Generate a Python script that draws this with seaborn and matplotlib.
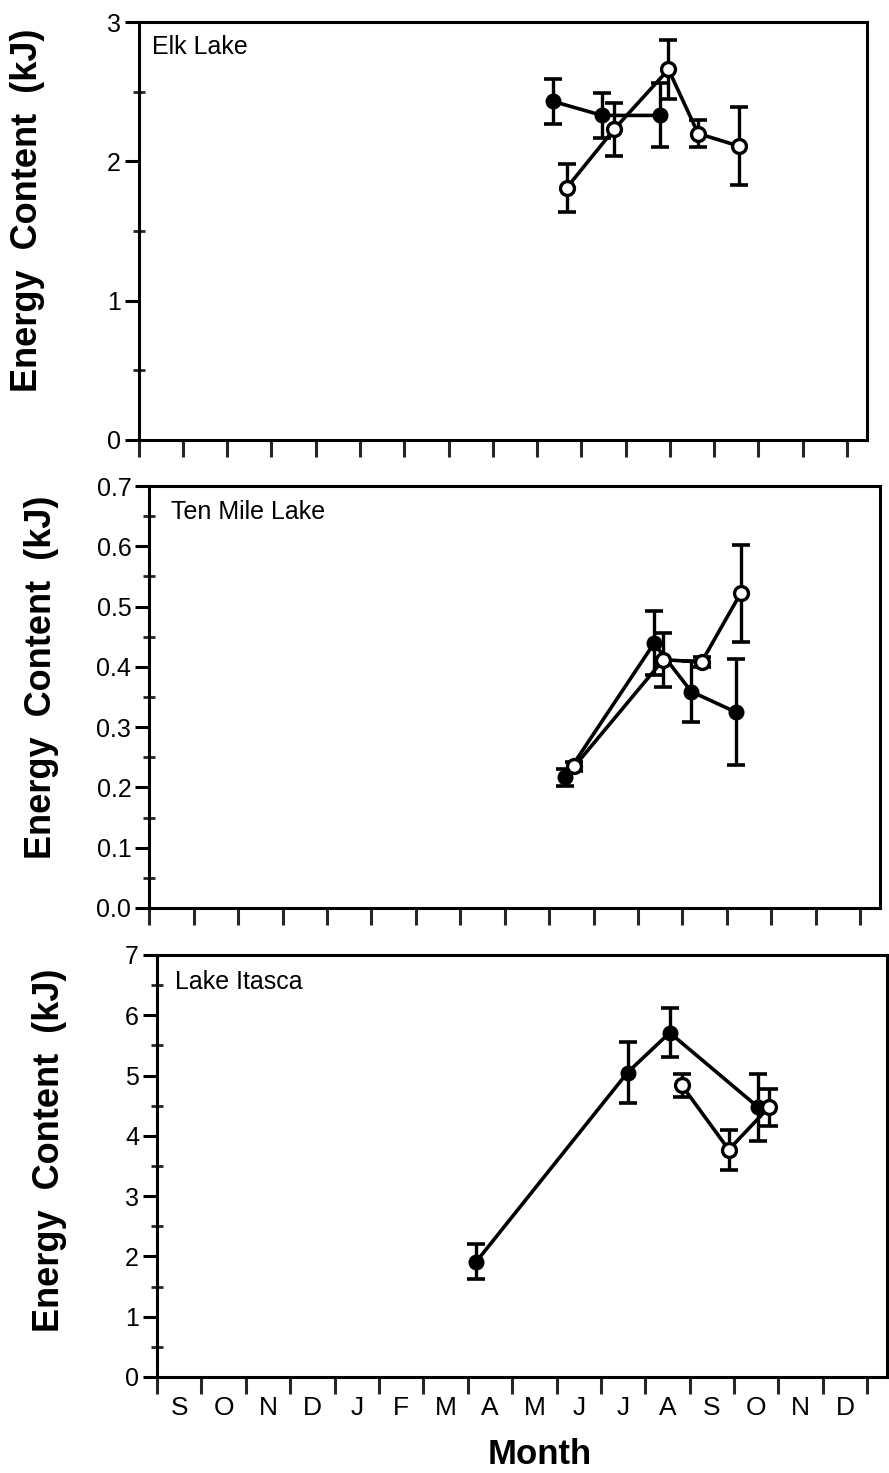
import numpy as np
import pandas as pd
import matplotlib
matplotlib.use("Agg")
import matplotlib.pyplot as plt
import seaborn as sns
from matplotlib.ticker import MultipleLocator, FixedLocator

# ---------------- data (x = months since 1 September) ----------------
month_labels = ["S", "O", "N", "D", "J", "F", "M", "A", "M", "J", "J", "A", "S", "O", "N", "D"]

elk_filled_x = [9.37, 10.47, 11.77]
elk_filled_y = [2.43, 2.33, 2.33]
elk_filled_err = [0.16, 0.16, 0.23]
elk_open_x = [9.67, 10.74, 11.97, 12.64, 13.56]
elk_open_y = [1.81, 2.23, 2.66, 2.20, 2.11]
elk_open_err = [0.17, 0.19, 0.21, 0.10, 0.28]

ten_filled_x = [9.35, 11.36, 12.20, 13.20]
ten_filled_y = [0.217, 0.439, 0.359, 0.325]
ten_filled_err = [0.014, 0.053, 0.050, 0.088]
ten_open_x = [9.57, 11.57, 12.43, 13.31]
ten_open_y = [0.235, 0.412, 0.408, 0.522]
ten_open_err = [0.008, 0.045, 0.008, 0.080]

ita_filled_x = [7.19, 10.60, 11.55, 13.55]
ita_filled_y = [1.91, 5.05, 5.71, 4.47]
ita_filled_err = [0.29, 0.50, 0.41, 0.55]
ita_open_x = [11.82, 12.88, 13.78]
ita_open_y = [4.84, 3.77, 4.47]
ita_open_err = [0.19, 0.33, 0.31]

panel_titles = ["Elk Lake", "Ten Mile Lake", "Lake Itasca"]
y_limits = [(0, 3), (0, 0.7), (0, 7)]
y_major = [1, 0.1, 1]
y_fmt = ["{:.0f}", "{:.1f}", "{:.0f}"]

panels = [
    (elk_filled_x, elk_filled_y, elk_filled_err, elk_open_x, elk_open_y, elk_open_err),
    (ten_filled_x, ten_filled_y, ten_filled_err, ten_open_x, ten_open_y, ten_open_err),
    (ita_filled_x, ita_filled_y, ita_filled_err, ita_open_x, ita_open_y, ita_open_err),
]

# ---------------- style ----------------
sns.set_theme(style="ticks")
plt.rcParams["font.family"] = ["Liberation Sans", "DejaVu Sans"]
plt.rcParams["axes.linewidth"] = 2.2

fig = plt.figure(figsize=(8.89, 14.73), dpi=100)
positions = [
    [0.156, 0.7013, 0.819, 0.2837],
    [0.168, 0.3836, 0.822, 0.2864],
    [0.1766, 0.0652, 0.8214, 0.2865],
]
title_pos = [(0.018, 0.968), (0.029, 0.966), (0.025, 0.964)]
ylabel_pos = [(0.031, 0.857), (0.047, 0.540), (0.056, 0.219)]

for i, (pos, data) in enumerate(zip(positions, panels)):
    ax = fig.add_axes(pos)
    fx, fy, fe, ox, oy, oe = data
    df_f = pd.DataFrame({"month": fx, "energy": fy})
    df_o = pd.DataFrame({"month": ox, "energy": oy})

    ax.errorbar(fx, fy, yerr=fe, fmt="none", ecolor="black", elinewidth=2.4,
                capsize=6.5, capthick=2.6, zorder=2)
    ax.errorbar(ox, oy, yerr=oe, fmt="none", ecolor="black", elinewidth=2.4,
                capsize=6.5, capthick=2.6, zorder=2)
    sns.lineplot(data=df_f, x="month", y="energy", ax=ax, color="black",
                 linewidth=2.6, marker="o", markersize=10,
                 markerfacecolor="black", markeredgecolor="black",
                 markeredgewidth=1.5, zorder=3, estimator=None, sort=False)
    sns.lineplot(data=df_o, x="month", y="energy", ax=ax, color="black",
                 linewidth=2.6, marker="o", markersize=10,
                 markerfacecolor="white", markeredgecolor="black",
                 markeredgewidth=2.4, zorder=4, estimator=None, sort=False)

    ax.set_xlim(0, 16.45)
    ax.set_ylim(*y_limits[i])
    ax.set_xlabel("")
    ax.set_ylabel("")

    # y ticks
    lo, hi = y_limits[i]
    step = y_major[i]
    majors = np.round(np.arange(lo, hi + step / 2, step), 3)
    ax.yaxis.set_major_locator(FixedLocator(majors))
    ax.yaxis.set_minor_locator(MultipleLocator(step / 2))
    ax.set_yticklabels([y_fmt[i].format(v) for v in majors])
    ax.tick_params(axis="y", which="major", direction="out", length=10, width=2.2,
                   labelsize=18, pad=3, colors="black")
    ax.tick_params(axis="y", which="minor", direction="inout", length=8, width=2)

    # x ticks at month boundaries
    ax.xaxis.set_major_locator(FixedLocator(np.arange(0, 17)))
    ax.tick_params(axis="x", which="major", direction="out", length=12, width=2.2,
                   labelbottom=False)
    if i == 2:
        ax.set_xticks(np.arange(16) + 0.5, minor=True)
        ax.set_xticklabels(month_labels, minor=True)
        ax.tick_params(axis="x", which="minor", length=0, labelsize=19, pad=14,
                       labelbottom=True, colors="black")
    else:
        ax.tick_params(axis="x", which="minor", length=0, labelbottom=False)

    for s in ax.spines.values():
        s.set_visible(True)
        s.set_linewidth(2.2)
        s.set_color("black")

    ax.text(title_pos[i][0], title_pos[i][1], panel_titles[i], transform=ax.transAxes,
            ha="left", va="top", fontsize=18, color="black")

    fig.text(ylabel_pos[i][0], ylabel_pos[i][1], "Energy  Content  (kJ)",
             rotation=90, ha="center", va="center", fontsize=26,
             fontweight="bold", color="black")

fig.text(540 / 889, 1 - 1455 / 1473, "Month", ha="center", va="center",
         fontsize=25, fontweight="bold", color="black")

fig.savefig("out.png", dpi=100, facecolor="white")
